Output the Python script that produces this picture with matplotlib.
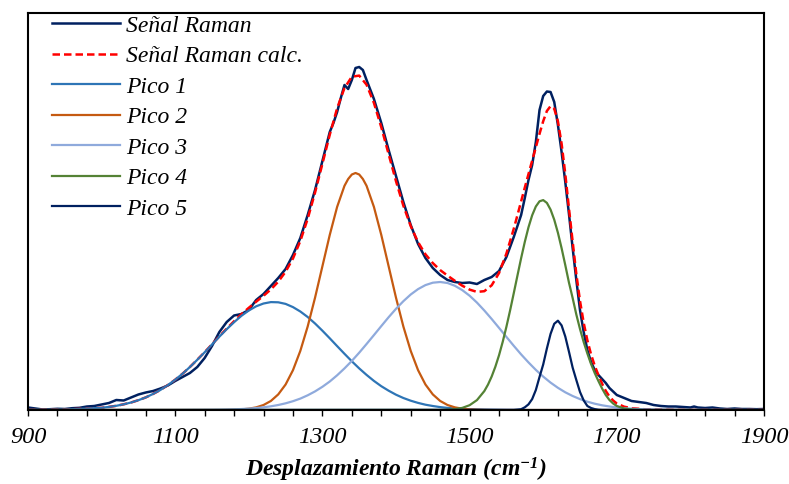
import matplotlib
matplotlib.use('Agg')
from matplotlib import pyplot as plt
from matplotlib.ticker import FixedLocator, NullLocator

raman_x = [900, 910, 920, 930, 940, 950, 960, 970, 980, 990,
           1000, 1010, 1020, 1030, 1040, 1050, 1060, 1070, 1080, 1090,
           1100, 1110, 1120, 1130, 1140, 1150, 1160, 1170, 1180, 1190,
           1200, 1210, 1220, 1230, 1240, 1250, 1260, 1270, 1280, 1290,
           1300, 1310, 1315, 1320, 1325, 1330, 1335, 1340, 1345, 1350,
           1355, 1360, 1370, 1380, 1390, 1400, 1410, 1420, 1430, 1440,
           1450, 1460, 1470, 1480, 1490, 1500, 1510, 1520, 1530, 1540,
           1550, 1560, 1570, 1575, 1580, 1585, 1590, 1595, 1600, 1605,
           1610, 1615, 1620, 1625, 1630, 1635, 1640, 1645, 1650, 1655,
           1660, 1665, 1670, 1675, 1680, 1685, 1690, 1700, 1710, 1720,
           1730, 1740, 1750, 1760, 1770, 1780, 1790, 1800, 1805, 1810,
           1820, 1830, 1840, 1850, 1860, 1870, 1880, 1890, 1900]
raman_y = [2.5, 1.5, 0.5, 0.8, 1.2, 1.0, 1.8, 2.2, 3.5, 4.0,
           5.5, 7.0, 10.0, 9.5, 12.5, 15.5, 17.5, 19.0, 21.5, 24.5,
           29.0, 33.0, 37.0, 43.0, 52.0, 64.0, 78.0, 88.0, 94.5, 96.0,
           100.0, 110.0, 116.0, 124.0, 132.0, 141.0, 155.0, 172.0, 195.0, 220.0,
           249.0, 278.0, 287.0, 298.0, 312.0, 325.0, 321.0, 330.0, 342.0, 343.0,
           340.0, 330.0, 311.0, 287.0, 260.0, 234.0, 208.0, 185.0, 166.0, 152.0,
           142.0, 135.0, 130.0, 128.0, 127.0, 127.5, 126.0, 130.0, 133.0, 139.0,
           153.0, 173.0, 195.0, 212.0, 230.0, 245.0, 268.0, 300.0, 314.0, 318.5,
           318.0, 308.0, 285.0, 258.0, 228.0, 196.0, 162.0, 130.0, 100.0, 78.0,
           60.0, 48.0, 40.0, 35.0, 31.0, 27.0, 22.0, 15.0, 12.0, 9.0,
           8.0, 7.0, 5.0, 4.0, 3.5, 3.5, 3.0, 2.5, 3.5, 2.5,
           2.0, 2.5, 1.5, 1.0, 1.5, 1.0, 1.0, 0.8, 1.0]

# fitted (calculated) signal
calc_x = [900, 950, 1000, 1010, 1020, 1030, 1040, 1050, 1060, 1070, 1080, 1090,
          1100, 1110, 1120, 1130, 1140, 1150, 1160, 1170, 1180, 1190,
          1200, 1210, 1220, 1230, 1240, 1250, 1260, 1270, 1280, 1290,
          1300, 1310, 1320, 1330, 1340, 1350, 1360, 1370, 1380, 1390,
          1400, 1410, 1420, 1430, 1440, 1450, 1460, 1470, 1480, 1490,
          1500, 1510, 1520, 1530, 1540, 1550, 1560, 1565, 1570, 1575,
          1580, 1585, 1590, 1595, 1600, 1605, 1610, 1615, 1620, 1625,
          1630, 1635, 1640, 1645, 1650, 1655, 1660, 1665, 1670, 1675,
          1680, 1685, 1690, 1695, 1700, 1710, 1720, 1730, 1740, 1760,
          1780, 1800, 1900]
calc_y = [0.0, 0.4, 2.2, 3.1, 4.2, 5.7, 7.5, 9.8, 12.6, 16.1, 20.1, 24.9,
          30.3, 36.3, 43.0, 50.3, 57.8, 65.7, 73.7, 81.4, 88.8, 95.8,
          102.2, 108.3, 114.2, 120.6, 128.3, 138.3, 151.5, 169.0, 191.2, 217.4,
          246.2, 275.3, 301.7, 322.0, 333.3, 334.4, 325.3, 307.1, 282.8, 255.8,
          228.8, 204.3, 183.9, 167.8, 155.7, 146.9, 139.9, 134.4, 129.2, 124.3,
          120.4, 118.1, 118.8, 124.7, 137.0, 156.4, 181.2, 194.8, 208.6, 222.4,
          235.9, 249.4, 262.7, 276.2, 288.8, 299.0, 303.9, 301.3, 288.7, 266.3,
          236.1, 201.5, 168.4, 136.1, 109.1, 87.2, 69.7, 55.6, 44.3, 34.9,
          26.3, 19.1, 13.5, 9.5, 6.5, 3.3, 1.8, 1.2, 0.6, 0.3,
          0.1, 0.0, 0.0]

# Pico 1
p1_x = [900, 950, 1000, 1010, 1020, 1030, 1040, 1050, 1060, 1070, 1080, 1090,
        1100, 1110, 1120, 1130, 1140, 1150, 1160, 1170, 1180, 1190,
        1200, 1210, 1220, 1230, 1240, 1250, 1260, 1270, 1280, 1290,
        1300, 1310, 1320, 1330, 1340, 1350, 1360, 1370, 1380, 1390,
        1400, 1410, 1420, 1430, 1440, 1450, 1460, 1470, 1480, 1490,
        1500, 1520, 1550, 1900]
p1_y = [0.0, 0.4, 2.2, 3.1, 4.2, 5.7, 7.5, 9.8, 12.6, 16.1, 20.1, 24.9,
        30.3, 36.3, 43.0, 50.2, 57.7, 65.5, 73.3, 80.8, 87.8, 94.2,
        99.5, 103.7, 106.5, 107.9, 107.7, 106.1, 102.9, 98.5, 93.0, 86.5,
        79.3, 71.7, 63.9, 56.2, 48.7, 41.6, 35.1, 29.1, 23.8, 19.3,
        15.3, 12.0, 9.3, 7.1, 5.3, 4.0, 2.9, 2.1, 1.5, 1.0,
        0.7, 0.3, 0.0, 0.0]

# Pico 2
p2_x = [900, 1160, 1170, 1180, 1190, 1200, 1210, 1220, 1230, 1240, 1250, 1260,
        1270, 1280, 1290, 1300, 1310, 1320, 1330, 1335, 1340, 1345, 1350, 1355,
        1360, 1370, 1380, 1390, 1400, 1410, 1420, 1430, 1440, 1450, 1460, 1470,
        1480, 1490, 1500, 1510, 1520, 1530, 1900]
p2_y = [0.0, 0.05, 0.12, 0.29, 0.63, 1.32, 2.63, 5.0, 9.04, 15.6, 25.5, 39.8,
        59.1, 83.5, 112.3, 143.7, 175.1, 203.1, 224.2, 231.0, 235.5, 237.0, 235.5, 231.0,
        224.2, 203.1, 175.1, 143.7, 112.3, 83.5, 59.1, 39.8, 25.5, 15.6, 9.04, 5.0,
        2.63, 1.32, 0.63, 0.29, 0.12, 0.0, 0.0]

# Pico 3
p3_x = [900, 1100, 1150, 1160, 1170, 1180, 1190, 1200, 1210, 1220, 1230, 1240,
        1250, 1260, 1270, 1280, 1290, 1300, 1310, 1320, 1330, 1340, 1350,
        1360, 1370, 1380, 1390, 1400, 1410, 1420, 1430, 1440, 1450, 1460,
        1470, 1480, 1490, 1500, 1510, 1520, 1530, 1540, 1550, 1560, 1570,
        1580, 1590, 1600, 1610, 1620, 1630, 1640, 1650, 1660, 1670, 1680,
        1690, 1700, 1710, 1720, 1730, 1740, 1750, 1770, 1800, 1900]
p3_y = [0.0, 0.02, 0.2, 0.3, 0.45, 0.66, 0.96, 1.37, 1.94, 2.69, 3.69, 5.0,
        6.68, 8.8, 11.4, 14.7, 18.6, 23.2, 28.5, 34.7, 41.6, 49.1, 57.3,
        66.0, 74.9, 83.9, 92.8, 101.2, 108.8, 115.5, 120.9, 124.9, 127.3, 128.0,
        127.0, 124.2, 119.9, 114.3, 107.4, 99.5, 91.0, 82.1, 73.1, 64.2, 55.6,
        47.6, 40.1, 33.4, 27.4, 22.2, 17.7, 14.0, 10.9, 8.3, 6.3, 4.7,
        3.5, 2.5, 1.8, 1.3, 0.9, 0.6, 0.4, 0.19, 0.05, 0.0]

# Pico 4
p4_x = [900, 1460, 1470, 1480, 1490, 1500, 1510, 1520, 1525, 1530, 1535, 1540,
        1545, 1550, 1555, 1560, 1565, 1570, 1575, 1580, 1585, 1590, 1595,
        1600, 1605, 1610, 1615, 1620, 1625, 1630, 1635, 1640, 1645, 1650,
        1655, 1660, 1665, 1670, 1675, 1680, 1685, 1690, 1695, 1700, 1710,
        1720, 1730, 1740, 1900]
p4_y = [0.0, 0.12, 0.34, 0.89, 2.1, 4.8, 9.9, 18.9, 25.4, 33.5, 43.3, 54.8,
        68.2, 83.2, 99.5, 116.8, 134.4, 151.8, 168.1, 182.7, 194.7, 203.5, 208.7,
        209.9, 207.1, 200.4, 190.3, 177.2, 161.8, 144.9, 127.4, 112.0, 95.5, 81.0,
        68.0, 56.5, 46.0, 37.0, 29.0, 21.5, 15.0, 10.0, 6.5, 4.0, 1.5,
        0.5, 0.2, 0.0, 0.0]

# Pico 5
p5_x = [900, 1560, 1565, 1570, 1575, 1580, 1585, 1590, 1595, 1600, 1605, 1610,
        1615, 1620, 1625, 1630, 1635, 1640, 1645, 1650, 1655, 1660, 1665,
        1670, 1675, 1680, 1900]
p5_y = [0.0, 0.17, 0.46, 0.8, 2.68, 5.63, 10.9, 20.0, 33.0, 45.5, 61.5, 76.1,
        86.2, 89.3, 84.6, 73.5, 58.3, 42.4, 30.0, 18.0, 9.6, 4.0, 2.0,
        0.9, 0.3, 0.1, 0.0]

xticks_major = [900, 1100, 1300, 1500, 1700, 1900]
xticks_minor = list(range(900, 1901, 40))

navy = '#002060'

plt.rcParams['font.family'] = ['Liberation Serif', 'DejaVu Serif']
plt.rcParams['mathtext.fontset'] = 'custom'
plt.rcParams['mathtext.rm'] = 'Liberation Serif:bold:italic'
plt.rcParams['mathtext.it'] = 'Liberation Serif:bold:italic'
plt.rcParams['mathtext.bf'] = 'Liberation Serif:bold:italic'

fig = plt.figure(figsize=(7.89, 4.84), dpi=100)
ax = fig.add_axes([28 / 789, 74 / 484, 736 / 789, 397 / 484])

lw = 1.6
ax.plot(raman_x, raman_y, color=navy, lw=1.8, label='Señal Raman')
ax.plot(calc_x, calc_y, color='#FF0000', lw=1.8, dashes=(3, 1.6), label='Señal Raman calc.')
ax.plot(p1_x, p1_y, color='#2E75B6', lw=lw, label='Pico 1')
ax.plot(p2_x, p2_y, color='#C55A11', lw=lw, label='Pico 2')
ax.plot(p3_x, p3_y, color='#8FAADC', lw=lw, label='Pico 3')
ax.plot(p4_x, p4_y, color='#548235', lw=lw, label='Pico 4')
ax.plot(p5_x, p5_y, color=navy, lw=lw, label='Pico 5')

ax.set_xlim(900, 1900)
ax.set_ylim(0, 397)

ax.xaxis.set_major_locator(FixedLocator(xticks_major))
ax.xaxis.set_minor_locator(FixedLocator(xticks_minor))
ax.yaxis.set_major_locator(NullLocator())
ax.tick_params(axis='x', which='both', direction='out', length=4.5, width=1, pad=8)
ax.tick_params(axis='x', which='major', labelsize=17.5)
for lab in ax.get_xticklabels():
    lab.set_fontstyle('italic')
for s in ax.spines.values():
    s.set_linewidth(1.5)
    s.set_color('black')

ax.set_xlabel('Desplazamiento Raman (cm$^{-1}$)', fontsize=17, fontweight='bold',
              fontstyle='italic', labelpad=5.5)

leg = ax.legend(loc='upper left', bbox_to_anchor=(0.0326, 0.995), frameon=False,
                borderpad=0, borderaxespad=0, handlelength=2.9, handletextpad=0.25,
                labelspacing=0.38, prop={'size': 17, 'style': 'italic'})

fig.savefig('out.png', dpi=100)
